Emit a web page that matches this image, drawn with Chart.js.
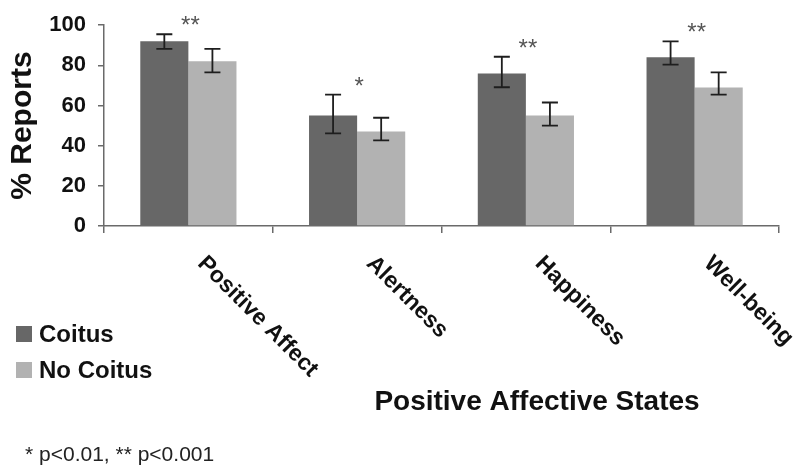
<!DOCTYPE html>
<html>
<head>
<meta charset="utf-8">
<script src="https://cdn.jsdelivr.net/npm/chart.js@4/dist/chart.umd.min.js"></script>
<style>
  body { margin: 0; background: #fff; }
  #wrap { width: 800px; height: 471px; }
</style>
</head>
<body>
<div id="wrap"><canvas id="chart" width="800" height="471"></canvas></div>
<script>
// --------------------
// Data
// --------------------
const categories = ["Positive Affect", "Alertness", "Happiness", "Well-being"];
const coitus = [92, 55, 76, 84];
const coitusHigh = [95.5, 65.4, 84.3, 91.9];
const coitusLow = [88.2, 46.1, 69.1, 80.4];
const noCoitus = [82, 47, 55, 69];
const noCoitusHigh = [88.2, 53.9, 61.5, 76.5];
const noCoitusLow = [76.5, 42.6, 50, 65.4];
const significance = ["**", "*", "**", "**"];
const yTicks = [0, 20, 40, 60, 80, 100];
const xTitle = "Positive Affective States";
const yTitle = "% Reports";
const footnote = "* p<0.01, ** p<0.001";

const FONT = "'Liberation Sans', Arial, sans-serif";
const AXIS_COLOR = "#6a6a6a";

// --------------------
// Error bars + stars + rotated labels + legend
// --------------------
const extrasPlugin = {
  id: "extras",
  afterDatasetsDraw(chart) {
    const ctx = chart.ctx;
    const y = chart.scales.y;
    ctx.save();
    ctx.strokeStyle = "#1e1e1e";
    ctx.lineWidth = 1.8;
    chart.data.datasets.forEach((ds, di) => {
      const meta = chart.getDatasetMeta(di);
      meta.data.forEach((bar, i) => {
        const top = y.getPixelForValue(ds.errHigh[i]);
        const bot = y.getPixelForValue(ds.errLow[i]);
        ctx.beginPath();
        ctx.moveTo(bar.x, top);
        ctx.lineTo(bar.x, bot);
        ctx.moveTo(bar.x - 8, top);
        ctx.lineTo(bar.x + 8, top);
        ctx.moveTo(bar.x - 8, bot);
        ctx.lineTo(bar.x + 8, bot);
        ctx.stroke();
      });
    });

    // significance stars
    const x = chart.scales.x;
    ctx.fillStyle = "#555";
    ctx.font = "24px " + FONT;
    ctx.textAlign = "center";
    ctx.textBaseline = "alphabetic";
    categories.forEach((c, i) => {
      const top = Math.min(y.getPixelForValue(coitusHigh[i]), y.getPixelForValue(noCoitusHigh[i]));
      ctx.fillText(significance[i], x.getPixelForValue(i) + 2, top - 1);
    });
    ctx.restore();
  },
  afterDraw(chart) {
    const ctx = chart.ctx;
    const x = chart.scales.x;
    ctx.save();

    // rotated category labels
    ctx.fillStyle = "#111";
    ctx.font = "bold 23px " + FONT;
    ctx.textAlign = "left";
    ctx.textBaseline = "top";
    categories.forEach((c, i) => {
      ctx.save();
      ctx.translate(x.getPixelForValue(i) + 21, 252);
      ctx.rotate(Math.PI / 4);
      ctx.fillText(c, 0, 0);
      ctx.restore();
    });

    // x title
    ctx.font = "bold 28px " + FONT;
    ctx.textAlign = "center";
    ctx.textBaseline = "middle";
    ctx.fillText(xTitle, 537, 402);

    // legend
    ctx.textAlign = "left";
    ctx.font = "bold 24px " + FONT;
    chart.data.datasets.forEach((ds, di) => {
      const ly = 326 + di * 36;
      ctx.fillStyle = ds.backgroundColor;
      ctx.fillRect(16, ly, 16, 16);
      ctx.fillStyle = "#111";
      ctx.fillText(ds.label, 39, ly + 9);
    });

    // footnote
    ctx.font = "21px " + FONT;
    ctx.fillStyle = "#222";
    ctx.fillText(footnote, 25, 455);
    ctx.restore();
  }
};

new Chart(document.getElementById("chart"), {
  type: "bar",
  data: {
    labels: categories,
    datasets: [
      {
        label: "Coitus",
        data: coitus,
        errHigh: coitusHigh,
        errLow: coitusLow,
        backgroundColor: "#676767"
      },
      {
        label: "No Coitus",
        data: noCoitus,
        errHigh: noCoitusHigh,
        errLow: noCoitusLow,
        backgroundColor: "#b2b2b2"
      }
    ]
  },
  options: {
    responsive: false,
    animation: false,
    devicePixelRatio: 1,
    layout: { padding: { top: 20, right: 21, left: 0, bottom: 0 } },
    datasets: { bar: { categoryPercentage: 0.57, barPercentage: 1.0 } },
    plugins: {
      legend: { display: false },
      tooltip: { enabled: false }
    },
    scales: {
      x: {
        ticks: { display: false },
        grid: { drawOnChartArea: false, drawTicks: true, tickLength: 7, color: AXIS_COLOR, lineWidth: 1.5 },
        border: { color: AXIS_COLOR, width: 1.5 },
        afterFit: (scale) => { scale.height = 245; }
      },
      y: {
        min: 0,
        max: 100,
        afterBuildTicks: (scale) => { scale.ticks = yTicks.map(v => ({ value: v })); },
        ticks: {
          color: "#111",
          padding: 12,
          font: { family: FONT, size: 22, weight: "bold" }
        },
        grid: { drawOnChartArea: false, drawTicks: true, tickLength: 6, color: AXIS_COLOR, lineWidth: 1.5 },
        border: { color: AXIS_COLOR, width: 1.5 },
        title: {
          display: true,
          text: yTitle,
          color: "#111",
          padding: { top: 5, bottom: 0 },
          font: { family: FONT, size: 30, weight: "bold" }
        },
        afterFit: (scale) => { scale.width = 104; }
      }
    }
  },
  plugins: [extrasPlugin]
});
</script>
</body>
</html>
